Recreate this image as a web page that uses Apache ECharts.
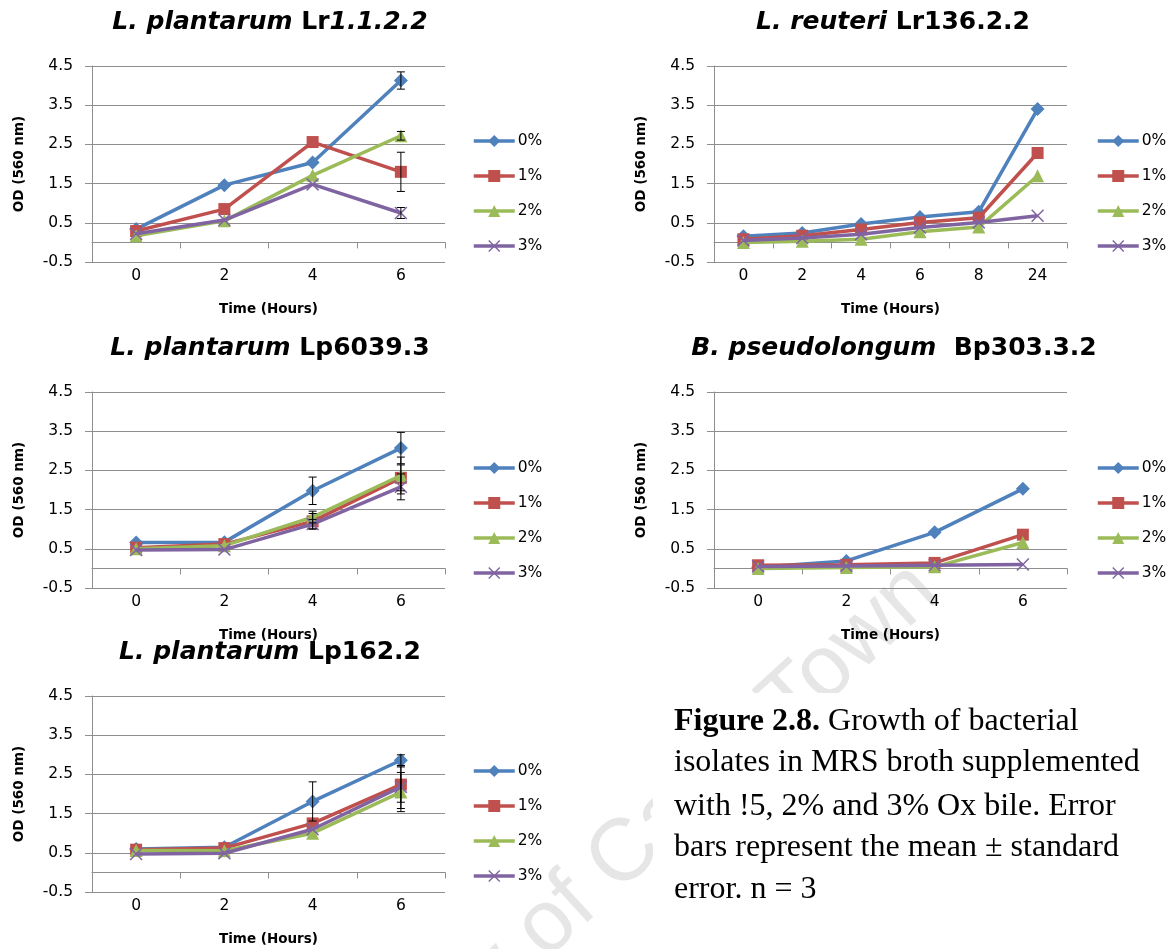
<!DOCTYPE html>
<html>
<head>
<meta charset="utf-8">
<script src="https://cdn.jsdelivr.net/npm/echarts@6/dist/echarts.min.js"></script>
<style>
  html, body { margin: 0; padding: 0; background: #fff; }
  #chart { width: 1169px; height: 949px; }
</style>
</head>
<body>
<div id="chart"></div>
<script>
// ---- Data: OD (560 nm) readings over time for each ox-bile level ----
const levels = ['0%', '1%', '2%', '3%'];
const hours = ['0', '2', '4', '6'];
const hoursReuteri = ['0', '2', '4', '6', '8', '24'];
const yTicks = [-0.5, 0.5, 1.5, 2.5, 3.5, 4.5];

// L. plantarum Lr1.1.2.2
const lr1122OD = [
  [0.34, 1.46, 2.04, 4.13],
  [0.29, 0.85, 2.56, 1.80],
  [0.17, 0.55, 1.71, 2.72],
  [0.22, 0.57, 1.48, 0.75]
];
const lr1122SE = [
  [0, 0, 0, 0.22],
  [0, 0, 0, 0.50],
  [0, 0, 0, 0.11],
  [0, 0, 0, 0.14]
];

// L. reuteri Lr136.2.2
const lr13622OD = [
  [0.16, 0.24, 0.47, 0.65, 0.78, 3.40],
  [0.08, 0.17, 0.33, 0.51, 0.63, 2.28],
  [0.00, 0.03, 0.08, 0.27, 0.39, 1.70],
  [0.05, 0.11, 0.21, 0.38, 0.51, 0.68]
];

// L. plantarum Lp6039.3
const lp60393OD = [
  [0.66, 0.67, 1.98, 3.07],
  [0.53, 0.62, 1.20, 2.31],
  [0.50, 0.58, 1.31, 2.37],
  [0.47, 0.48, 1.13, 2.08]
];
const lp60393SE = [
  [0, 0, 0.35, 0.40],
  [0, 0, 0.20, 0.33],
  [0, 0, 0.15, 0.47],
  [0, 0, 0.12, 0.33]
];

// B. pseudolongum Bp303.3.2
const bp30332OD = [
  [0.03, 0.19, 0.92, 2.03],
  [0.08, 0.09, 0.14, 0.86],
  [0.00, 0.02, 0.04, 0.66],
  [0.05, 0.06, 0.08, 0.10]
];

// L. plantarum Lp162.2
const lp1622OD = [
  [0.60, 0.64, 1.81, 2.86],
  [0.58, 0.62, 1.25, 2.24],
  [0.56, 0.55, 1.00, 2.05],
  [0.47, 0.49, 1.10, 2.18]
];
const lp1622SE = [
  [0, 0, 0.50, 0.14],
  [0, 0, 0, 0.45],
  [0, 0, 0, 0.50],
  [0, 0, 0, 0.55]
];

const panelTitles = [
  '{i|L. plantarum} {b|Lr}{i|1.1.2.2}',
  '{i|L. reuteri} {b|Lr136.2.2}',
  '{i|L. plantarum} {b|Lp6039.3}',
  '{i|B. pseudolongum}  {b|Bp303.3.2}',
  '{i|L. plantarum} {b|Lp162.2}'
];
const yName = 'OD (560 nm)';
const xName = 'Time (Hours)';
const captionLines = [
  '{b|Figure 2.8.} Growth of bacterial',
  'isolates in MRS broth supplemented',
  'with !5, 2% and 3% Ox bile. Error',
  'bars represent the mean \u00b1 standard',
  'error. n = 3'
];
const watermark = 'University of Cape Town';

// ---- Styling / layout ----
const colors = ['#4F81BD', '#C0504D', '#9BBB59', '#8064A2'];
const symbols = [
  'diamond',
  'rect',
  'triangle',
  'path://M0,1L1,0L6,5L11,0L12,1L7,6L12,11L11,12L6,7L1,12L0,11L5,6Z'
];
const symbolSizes = [[14, 14], 12, 13, 13];
const gridGray = '#8e8e8e';
const sans = '"DejaVu Sans"';

const panels = [
  { od: lr1122OD, se: lr1122SE, cats: hours, grid: { left: 92, top: 66, width: 353, height: 196 }, title: [270, 22], legend: [472, 133] },
  { od: lr13622OD, se: null, cats: hoursReuteri, grid: { left: 714, top: 66, width: 353, height: 196 }, title: [893, 22], legend: [1096, 133] },
  { od: lp60393OD, se: lp60393SE, cats: hours, grid: { left: 92, top: 392, width: 353, height: 196 }, title: [270, 348], legend: [472, 460] },
  { od: bp30332OD, se: null, cats: hours, grid: { left: 714, top: 392, width: 353, height: 196 }, title: [894, 348], legend: [1096, 460] },
  { od: lp1622OD, se: lp1622SE, cats: hours, grid: { left: 92, top: 696, width: 353, height: 196 }, title: [270, 652], legend: [472, 763] }
];

function renderErrorBar(params, api) {
  const x = api.value(0), v = api.value(1), e = api.value(2);
  if (!e) return null;
  const hi = api.coord([x, v + e]);
  const lo = api.coord([x, v - e]);
  const w = 4;
  const st = { stroke: '#000', lineWidth: 1 };
  return {
    type: 'group',
    children: [
      { type: 'line', shape: { x1: hi[0], y1: hi[1], x2: lo[0], y2: lo[1] }, style: st },
      { type: 'line', shape: { x1: hi[0] - w, y1: hi[1], x2: hi[0] + w, y2: hi[1] }, style: st },
      { type: 'line', shape: { x1: lo[0] - w, y1: lo[1], x2: lo[0] + w, y2: lo[1] }, style: st }
    ]
  };
}

const titleFont = { fontFamily: sans, fontSize: 25, fontWeight: 'bold', color: '#000' };
const option = {
  backgroundColor: '#fff',
  animation: false,
  title: [], legend: [], grid: [], xAxis: [], yAxis: [], series: [],
  graphic: []
};

panels.forEach((p, pi) => {
  option.title.push({
    text: panelTitles[pi],
    left: p.title[0], top: p.title[1],
    textAlign: 'center', textVerticalAlign: 'middle', padding: 0,
    textStyle: Object.assign({}, titleFont, {
      rich: {
        i: Object.assign({}, titleFont, { fontStyle: 'italic' }),
        b: Object.assign({}, titleFont)
      }
    })
  });
  option.legend.push({
    orient: 'vertical', left: p.legend[0], top: p.legend[1],
    itemWidth: 41, itemHeight: 15, itemGap: 19, padding: 0,
    data: levels,
    lineStyle: { width: 3.5 },
    textStyle: { fontFamily: sans, fontSize: 15.5, color: '#000', padding: [0, 0, 0, -2] }
  });
  option.grid.push(Object.assign({ containLabel: false }, p.grid));
  // Category axis carrying labels and the axis title (sits at the bottom).
  option.xAxis.push({
    type: 'category', gridIndex: pi, data: p.cats, position: 'bottom',
    boundaryGap: true,
    axisLine: { show: false, onZero: false },
    axisTick: { show: false },
    axisLabel: { margin: 6, fontFamily: sans, fontSize: 15.5, color: '#000' },
    splitLine: { show: false },
    name: xName, nameLocation: 'middle', nameGap: 40,
    nameTextStyle: { fontFamily: sans, fontSize: 13.5, fontWeight: 'bold', color: '#000' }
  });
  // Axis line crossing at OD = 0 with category tick marks.
  option.xAxis.push({
    type: 'category', gridIndex: pi, data: p.cats, position: 'bottom',
    boundaryGap: true,
    axisLine: { show: true, onZero: true, lineStyle: { color: gridGray, width: 1 } },
    axisTick: { show: true, length: 6, lineStyle: { color: gridGray } },
    axisLabel: { show: false },
    splitLine: { show: false }
  });
  option.yAxis.push({
    type: 'value', gridIndex: pi, min: -0.5, max: 4.5, interval: 0.5,
    axisLine: { show: true, lineStyle: { color: gridGray, width: 1 } },
    axisTick: { show: true, customValues: yTicks, length: 7, lineStyle: { color: gridGray } },
    axisLabel: {
      margin: 19, fontFamily: sans, fontSize: 15.5, color: '#000',
      customValues: yTicks,
      formatter: v => v.toFixed(1)
    },
    splitLine: { show: true, lineStyle: { color: gridGray, width: 1 } },
    name: yName, nameLocation: 'middle', nameRotate: 90, nameGap: 66,
    nameTextStyle: { fontFamily: sans, fontSize: 13.5, fontWeight: 'bold', color: '#000' }
  });

  p.od.forEach((vals, si) => {
    option.series.push({
      type: 'line', name: levels[si],
      xAxisIndex: pi * 2, yAxisIndex: pi,
      data: vals,
      symbol: symbols[si], symbolSize: symbolSizes[si], showSymbol: true,
      lineStyle: { color: colors[si], width: 3.5 },
      itemStyle: { color: colors[si] },
      z: 2 + si * 0.1
    });
  });
  if (p.se) {
    p.se.forEach((errs, si) => {
      option.series.push({
        type: 'custom', name: levels[si] + ' SE',
        xAxisIndex: pi * 2, yAxisIndex: pi,
        renderItem: renderErrorBar,
        encode: { x: 0, y: 1 },
        data: errs.map((e, i) => [i, p.od[si][i], e]),
        z: 5, silent: true
      });
    });
  }
});

// Faint diagonal watermark across the lower right of the page.
option.graphic.push({
  type: 'text', x: 926, y: 579, rotation: 42.5 * Math.PI / 180, z: -1,
  style: {
    text: watermark, font: '88px "Liberation Sans"', fill: '#e6e6e6',
    align: 'right', textAlign: 'right', verticalAlign: 'middle', textVerticalAlign: 'middle'
  }
});
// White panel behind the figure caption.
option.graphic.push({
  type: 'rect', z: 1, shape: { x: 653, y: 693, width: 516, height: 256 },
  style: { fill: '#fff' }
});
const captionY = [722, 763, 807, 848, 890];
captionLines.forEach((line, i) => {
  option.graphic.push({
    type: 'text', z: 2, x: 674, y: captionY[i],
    style: {
      text: line, font: '32px "Liberation Serif"', fill: '#000',
      align: 'left', textAlign: 'left', verticalAlign: 'middle', textVerticalAlign: 'middle',
      rich: { b: { font: 'bold 32px "Liberation Serif"', fill: '#000', color: '#000' } }
    }
  });
});

const chart = echarts.init(document.getElementById('chart'), null, { renderer: 'canvas' });
chart.setOption(option);
</script>
</body>
</html>
